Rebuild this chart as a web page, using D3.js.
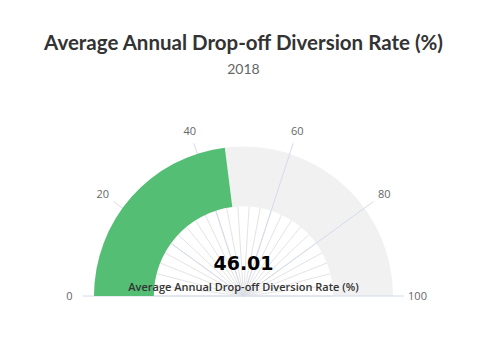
<!DOCTYPE html>
<html>
<head>
<meta charset="utf-8">
<script src="https://cdn.jsdelivr.net/npm/d3@7"></script>
<style>
  body { margin: 0; background: #fff; }
  svg { display: block; }
</style>
</head>
<body>
<div id="chart"></div>
<script>
var chartTitle = "Average Annual Drop-off Diversion Rate (%)";
var chartSubtitle = "2018";
var seriesName = "Average Annual Drop-off Diversion Rate (%)";
var gaugeValue = [46.01];
var axisRange = [0, 100];
var majorTicks = [0, 20, 40, 60, 80, 100];
var minorTicks = d3.range(0, 101, 4);

var width = 495, height = 353;
var cx = 243.5, cy = 296;
var outerR = 149.5, innerR = outerR * 0.6;

var svg = d3.select("#chart").append("svg")
    .attr("width", width)
    .attr("height", height);

var angle = d3.scaleLinear()
    .domain(axisRange)
    .range([-Math.PI / 2, Math.PI / 2]);

function pt(v, r) {
  var a = angle(v);
  return [cx + r * Math.sin(a), cy - r * Math.cos(a)];
}

// title
svg.append("text")
    .attr("x", cx).attr("y", 50)
    .attr("text-anchor", "middle")
    .style("font-family", "Lato, sans-serif")
    .style("font-weight", "bold")
    .style("font-size", "20.5px")
    .style("fill", "#333")
    .text(chartTitle);

svg.append("text")
    .attr("x", cx).attr("y", 74)
    .attr("text-anchor", "middle")
    .style("font-family", "Lato, sans-serif")
    .style("font-size", "14px")
    .style("fill", "#666")
    .text(chartSubtitle);

var arc = d3.arc().innerRadius(innerR).outerRadius(outerR);

var paneG = svg.append("g").attr("transform", "translate(" + cx + "," + cy + ")");
var gridG = svg.append("g");
var seriesG = svg.append("g").attr("transform", "translate(" + cx + "," + cy + ")");

// pane background
paneG.append("path")
    .attr("d", arc({startAngle: angle(axisRange[0]), endAngle: angle(axisRange[1])}))
    .attr("fill", "#f1f1f1");

// minor grid lines
gridG.selectAll("line.minor")
    .data(minorTicks)
  .enter().append("line")
    .attr("class", "minor")
    .attr("x1", cx).attr("y1", cy)
    .attr("x2", function(d) { return pt(d, innerR)[0]; })
    .attr("y2", function(d) { return pt(d, innerR)[1]; })
    .style("stroke", "#e4e4e4")
    .style("stroke-width", 1);

// major grid lines + ticks
gridG.selectAll("line.major")
    .data(majorTicks)
  .enter().append("line")
    .attr("class", "major")
    .attr("x1", cx).attr("y1", cy)
    .attr("x2", function(d) { return pt(d, outerR + 11)[0]; })
    .attr("y2", function(d) { return pt(d, outerR + 11)[1]; })
    .style("stroke", "#d5dbec")
    .style("stroke-width", 1);

// series
seriesG.append("path")
    .attr("d", arc({startAngle: angle(axisRange[0]), endAngle: angle(gaugeValue[0])}))
    .attr("fill", "#55be75");

// tick labels
svg.append("g").selectAll("text")
    .data(majorTicks)
  .enter().append("text")
    .attr("x", function(d) { return pt(d, 174)[0]; })
    .attr("y", function(d) { return pt(d, 174)[1] + 4; })
    .attr("text-anchor", "middle")
    .style("font-family", "'Open Sans', sans-serif")
    .style("font-size", "11px")
    .style("fill", "#666")
    .text(function(d) { return d; });

// value
svg.append("text")
    .attr("x", cx).attr("y", 270)
    .attr("text-anchor", "middle")
    .style("font-family", "'DejaVu Sans', sans-serif")
    .style("font-weight", "bold")
    .style("font-size", "19px")
    .style("fill", "#000")
    .text(gaugeValue[0].toFixed(2));

svg.append("text")
    .attr("x", cx).attr("y", 291)
    .attr("text-anchor", "middle")
    .style("font-family", "'Open Sans', sans-serif")
    .style("font-weight", "600")
    .style("font-size", "11px")
    .style("fill", "#333")
    .text(seriesName);
</script>
</body>
</html>
